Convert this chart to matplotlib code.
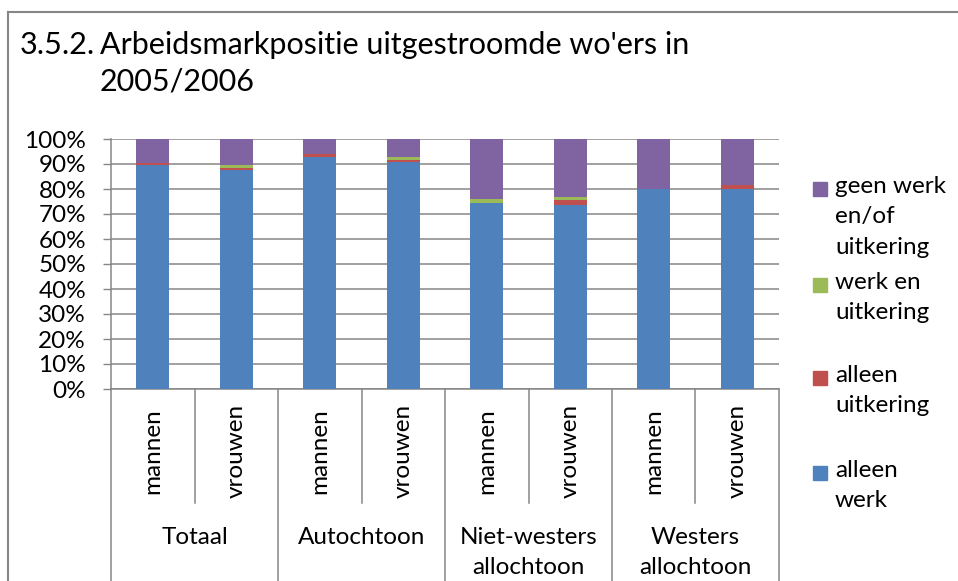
import matplotlib.pyplot as plt
from matplotlib.patches import Rectangle
from matplotlib.lines import Line2D
import numpy as np

plt.rcParams['font.family'] = ['Lato', 'DejaVu Sans']

# data (percentages per bar)
sub_labels = ['mannen', 'vrouwen'] * 4
group_labels = ['Totaal', 'Autochtoon', 'Niet-westers\nallochtoon', 'Westers\nallochtoon']
alleen_werk = [89.6, 87.7, 92.9, 90.8, 74.5, 73.6, 79.9, 80.1]
alleen_uitkering = [0.9, 0.8, 1.1, 0.9, 0.0, 2.1, 0.0, 1.4]
werk_en_uitkering = [0.0, 1.1, 0.0, 1.2, 1.4, 1.1, 0.0, 0.0]
geen_werk = [9.5, 10.4, 6.0, 7.1, 24.1, 23.2, 20.1, 18.5]
series_names = ['alleen\nwerk', 'alleen\nuitkering', 'werk en\nuitkering', 'geen werk\nen/of\nuitkering']
colors = ['#4F81BD', '#C0504D', '#9BBB59', '#8064A2']

W, H = 958, 581
fig = plt.figure(figsize=(W / 100, H / 100), dpi=100)

# chart border (cut off at right/bottom in the reference)
fig.add_artist(Line2D([8 / W, 8 / W], [0, 1 - 12 / H], color='#868686', lw=1.5))
fig.add_artist(Line2D([8 / W, 1], [1 - 12 / H, 1 - 12 / H], color='#868686', lw=1.5))

# plot area in pixel coords
left, right, top, bottom = 111, 779, 139, 389
ax = fig.add_axes([left / W, 1 - bottom / H, (right - left) / W, (bottom - top) / H])

x = np.arange(len(sub_labels))
series = [alleen_werk, alleen_uitkering, werk_en_uitkering, geen_werk]
base = np.zeros(len(x))
for vals, c in zip(series, colors):
    ax.bar(x, vals, bottom=base, width=0.4, color=c, edgecolor='none', zorder=3)
    base += np.array(vals)

fs = 17.5
ax.set_xlim(-0.5, len(x) - 0.5)
ax.set_ylim(0, 100)
ax.set_yticks(np.arange(0, 101, 10))
ax.set_yticklabels([f'{v}%' for v in range(0, 101, 10)], fontsize=fs)
ax.tick_params(axis='y', length=6, width=1, color='#868686', pad=12)
ax.set_xticks([])
ax.grid(axis='y', color='#868686', lw=1.1, zorder=0)
for s in ['top', 'right']:
    ax.spines[s].set_visible(False)
for s in ['left', 'bottom']:
    ax.spines[s].set_color('#868686')
    ax.spines[s].set_linewidth(1.1)

# multi-level category axis
trans = ax.get_xaxis_transform()
def yf(p):
    return (bottom - p) / (bottom - top)

for i in range(len(x) + 1):
    end = 503 if i % 2 == 1 else H
    ax.add_artist(Line2D([i - 0.5, i - 0.5], [0, yf(end)], transform=trans,
                         color='#868686', lw=1.1, clip_on=False))
for i, lab in enumerate(sub_labels):
    ax.text(i, yf(451), lab, transform=trans, rotation=90, ha='center', va='center',
            fontsize=fs)
for g, lab in enumerate(group_labels):
    ax.text(2 * g + 0.5, yf(527), lab, transform=trans, ha='center', va='top',
            fontsize=fs, linespacing=1.55)

# title with hanging indent
fig.text(20 / W, 1 - 45 / H, '3.5.2.', fontsize=22, va='center')
fig.text(100 / W, 1 - 45 / H, "Arbeidsmarkpositie uitgestroomde wo'ers in", fontsize=22, va='center')
fig.text(100 / W, 1 - 81 / H, '2005/2006', fontsize=22, va='center')

# legend (top entry first)
entry_y = [189, 285, 378, 473]
for yy, name, c in zip(entry_y, series_names[::-1], colors[::-1]):
    fig.add_artist(Rectangle((813 / W, 1 - (yy + 7) / H), 14 / W, 14 / H, color=c))
    fig.text(835 / W, 1 - (yy - 13) / H, name, fontsize=fs, va='top', linespacing=1.55)

fig.savefig('out.png', dpi=100)
